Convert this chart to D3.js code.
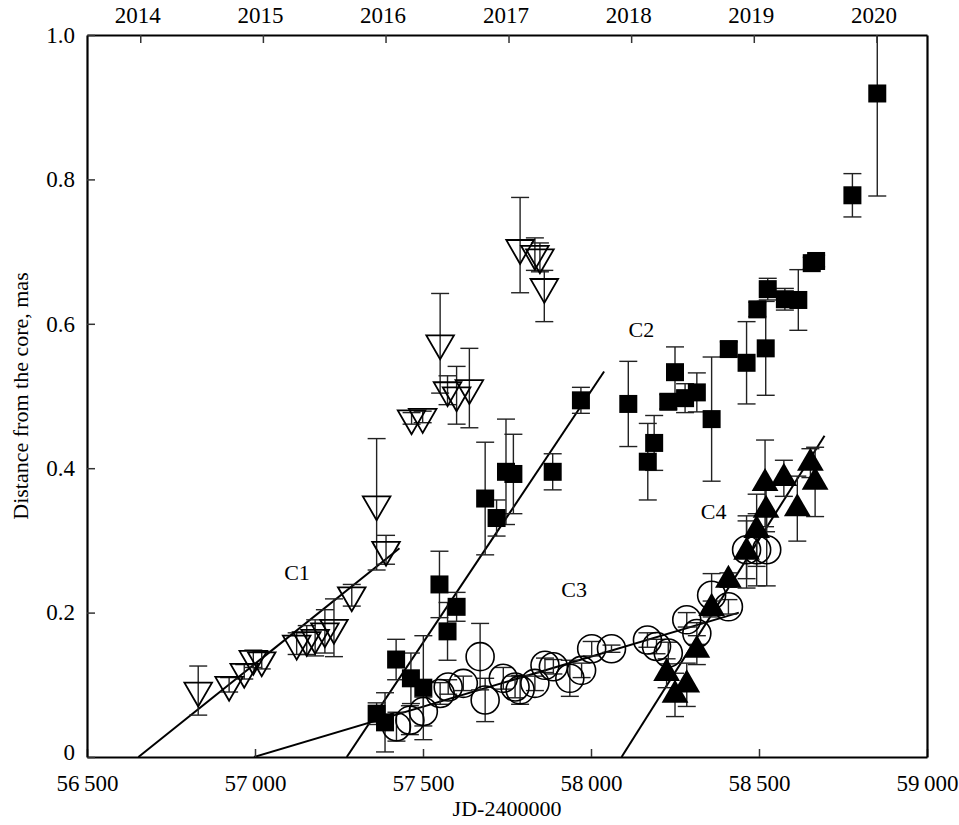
<!DOCTYPE html>
<html>
<head>
<meta charset="utf-8">
<script src="https://cdn.jsdelivr.net/npm/d3@7"></script>
<style>
  body { margin: 0; background: #fff; }
  svg { display: block; font-family: "Liberation Serif", "DejaVu Serif", serif; }
</style>
</head>
<body>
<div id="chart"></div>
<script>
'use strict';

// C1 - open down triangles
const c1Jd   = [56831, 56923, 56968, 56995, 57020, 57124, 57154, 57179, 57208, 57235, 57288, 57362, 57390, 57466, 57499, 57551, 57573, 57600, 57638, 57789, 57833, 57848, 57861];
const c1Dist = [0.092, 0.100, 0.118, 0.136, 0.134, 0.157, 0.162, 0.165, 0.174, 0.179, 0.224, 0.350, 0.287, 0.469, 0.471, 0.573, 0.508, 0.501, 0.511, 0.705, 0.697, 0.692, 0.651];
const c1ErrLo = [0.034, 0.010, 0.010, 0.012, 0.012, 0.015, 0.020, 0.025, 0.030, 0.040, 0.015, 0.091, 0.020, 0.008, 0.008, 0.069, 0.020, 0.040, 0.055, 0.062, 0.023, 0.020, 0.048];
const c1ErrHi = [0.034, 0.010, 0.010, 0.012, 0.012, 0.015, 0.020, 0.025, 0.030, 0.040, 0.015, 0.091, 0.020, 0.008, 0.008, 0.069, 0.020, 0.040, 0.055, 0.070, 0.022, 0.020, 0.023];

// C2 - filled squares
const c2Jd   = [57362, 57387, 57420, 57464, 57501, 57549, 57573, 57600, 57685, 57719, 57747, 57769, 57886, 57970, 58111, 58169, 58188, 58230, 58250, 58280, 58315, 58359, 58410, 58463, 58495, 58520, 58526, 58577, 58617, 58657, 58670, 58778, 58852];
const c2Dist = [0.060, 0.048, 0.135, 0.109, 0.096, 0.239, 0.174, 0.208, 0.358, 0.331, 0.395, 0.392, 0.395, 0.494, 0.489, 0.409, 0.435, 0.492, 0.533, 0.497, 0.505, 0.468, 0.565, 0.546, 0.620, 0.566, 0.648, 0.634, 0.633, 0.684, 0.687, 0.778, 0.919];
const c2Err  = [0.015, 0.041, 0.028, 0.035, 0.072, 0.046, 0.040, 0.020, 0.078, 0.025, 0.073, 0.055, 0.025, 0.018, 0.059, 0.053, 0.038, 0.010, 0.035, 0.020, 0.027, 0.086, 0.010, 0.057, 0.010, 0.065, 0.015, 0.015, 0.042, 0.008, 0.008, 0.030, 0.142];

// C3 - open circles
const c3Jd   = [57421, 57461, 57501, 57551, 57575, 57620, 57670, 57685, 57739, 57774, 57789, 57833, 57863, 57888, 57937, 57972, 58002, 58061, 58168, 58195, 58230, 58285, 58315, 58359, 58409, 58463, 58493, 58523];
const c3Dist = [0.042, 0.051, 0.063, 0.088, 0.097, 0.102, 0.139, 0.079, 0.109, 0.097, 0.093, 0.102, 0.127, 0.125, 0.109, 0.120, 0.150, 0.150, 0.162, 0.153, 0.144, 0.190, 0.171, 0.224, 0.208, 0.287, 0.287, 0.287];
const c3Err  = [0.020, 0.020, 0.020, 0.015, 0.010, 0.010, 0.046, 0.030, 0.015, 0.015, 0.020, 0.010, 0.010, 0.010, 0.025, 0.010, 0.010, 0.005, 0.010, 0.010, 0.015, 0.010, 0.015, 0.030, 0.010, 0.040, 0.050, 0.050];

// C4 - filled up triangles
const c4Jd   = [58225, 58250, 58285, 58315, 58359, 58409, 58463, 58493, 58521, 58518, 58574, 58614, 58653, 58667];
const c4Dist = [0.116, 0.086, 0.100, 0.148, 0.206, 0.245, 0.284, 0.314, 0.342, 0.379, 0.386, 0.344, 0.407, 0.381];
const c4Err  = [0.020, 0.030, 0.030, 0.020, 0.010, 0.010, 0.050, 0.050, 0.030, 0.060, 0.025, 0.045, 0.020, 0.048];

// linear fits: [start, end] points
const fitNames = ["C1", "C2", "C3", "C4"];
const fitJd   = [[56653, 57430], [57273, 58039], [56997, 58440], [58091, 58695]];
const fitDist = [[0, 0.289], [0, 0.534], [0, 0.200], [0, 0.445]];

// component labels
const labelJd   = [57125, 58150, 57950, 58365];
const labelDist = [0.245, 0.582, 0.222, 0.330];

// axes
const xTicks = [56500, 57000, 57500, 58000, 58500, 59000];
const yTicks = [0, 0.2, 0.4, 0.6, 0.8, 1.0];
const yearLabels = ["2014", "2015", "2016", "2017", "2018", "2019", "2020"];
const yearJd = [56658.5, 57023.5, 57388.5, 57754.5, 58119.5, 58484.5, 58849.5];

const width = 959;
const height = 825;
const margin = {top: 35, right: 32, bottom: 68, left: 87};

const svg = d3.select("#chart").append("svg")
    .attr("width", width)
    .attr("height", height);

const x = d3.scaleLinear().domain([56500, 59000]).range([margin.left, width - margin.right]);
const y = d3.scaleLinear().domain([0, 1]).range([height - margin.bottom, margin.top]);

const locale = d3.formatLocale({decimal: ".", thousands: "\u2009", grouping: [3], currency: ["", ""]});
const fmtJd = locale.format(",");

svg.append("defs").append("clipPath").attr("id", "plot")
  .append("rect")
    .attr("x", margin.left).attr("y", margin.top)
    .attr("width", width - margin.left - margin.right)
    .attr("height", height - margin.top - margin.bottom);

const plot = svg.append("g").attr("clip-path", "url(#plot)");

// fit lines
fitNames.forEach((n, i) => {
  plot.append("line")
      .attr("x1", x(fitJd[i][0])).attr("y1", y(fitDist[i][0]))
      .attr("x2", x(fitJd[i][1])).attr("y2", y(fitDist[i][1]))
      .attr("stroke", "#000")
      .attr("stroke-width", 2);
});

// error bars
function errorBars(jd, dist, lo, hi) {
  const cap = 9;
  const g = plot.append("g").attr("stroke", "#222").attr("stroke-width", 1.4);
  jd.forEach((d, i) => {
    const cx = x(d);
    const y0 = y(dist[i] - lo[i]);
    const y1 = y(dist[i] + hi[i]);
    g.append("line").attr("x1", cx).attr("x2", cx).attr("y1", y0).attr("y2", y1);
    g.append("line").attr("x1", cx - cap).attr("x2", cx + cap).attr("y1", y0).attr("y2", y0);
    g.append("line").attr("x1", cx - cap).attr("x2", cx + cap).attr("y1", y1).attr("y2", y1);
  });
}

errorBars(c1Jd, c1Dist, c1ErrLo, c1ErrHi);
errorBars(c2Jd, c2Dist, c2Err, c2Err);
errorBars(c3Jd, c3Dist, c3Err, c3Err);
errorBars(c4Jd, c4Dist, c4Err, c4Err);

// markers
const tri = d3.symbol().type(d3.symbolTriangle);

plot.append("g").selectAll("circle")
  .data(d3.zip(c3Jd, c3Dist))
  .join("circle")
    .attr("cx", d => x(d[0]))
    .attr("cy", d => y(d[1]))
    .attr("r", 14)
    .attr("fill", "none")
    .attr("stroke", "#000")
    .attr("stroke-width", 1.6);

plot.append("g").selectAll("path")
  .data(d3.zip(c1Jd, c1Dist))
  .join("path")
    .attr("d", tri.size(330)())
    .attr("transform", d => `translate(${x(d[0])},${y(d[1])}) rotate(180)`)
    .attr("fill", "none")
    .attr("stroke", "#000")
    .attr("stroke-width", 1.8);

plot.append("g").selectAll("rect")
  .data(d3.zip(c2Jd, c2Dist))
  .join("rect")
    .attr("x", d => x(d[0]) - 9)
    .attr("y", d => y(d[1]) - 9)
    .attr("width", 18)
    .attr("height", 18)
    .attr("fill", "#000");

plot.append("g").selectAll("path")
  .data(d3.zip(c4Jd, c4Dist))
  .join("path")
    .attr("d", tri.size(310)())
    .attr("transform", d => `translate(${x(d[0])},${y(d[1])})`)
    .attr("fill", "#000");

// component labels
svg.append("g").selectAll("text")
  .data(fitNames)
  .join("text")
    .attr("x", (d, i) => x(labelJd[i]))
    .attr("y", (d, i) => y(labelDist[i]))
    .attr("text-anchor", "middle")
    .attr("font-size", 22)
    .text(d => d);

// axes
const axes = svg.append("g");

const xAxis = axes.append("g")
    .attr("transform", `translate(0,${height - margin.bottom})`)
    .call(d3.axisBottom(x).tickValues(xTicks).tickFormat(fmtJd).tickSizeInner(-8).tickSizeOuter(0).tickPadding(18));

const xTop = axes.append("g")
    .attr("transform", `translate(0,${margin.top})`)
    .call(d3.axisTop(x).tickValues(yearJd).tickFormat((d, i) => yearLabels[i]).tickSizeInner(-8).tickSizeOuter(0).tickPadding(12));

const yAxis = axes.append("g")
    .attr("transform", `translate(${margin.left},0)`)
    .call(d3.axisLeft(y).tickValues(yTicks).tickFormat(d => d === 0 ? "0" : d3.format(".1f")(d)).tickSizeInner(-8).tickSizeOuter(0).tickPadding(12));

const yRight = axes.append("g")
    .attr("transform", `translate(${width - margin.right},0)`)
    .call(d3.axisRight(y).tickValues([]).tickSizeOuter(0));

axes.selectAll(":scope > g")
    .attr("font-size", 23)
    .attr("font-family", "Liberation Serif, serif");
axes.selectAll(".domain").attr("stroke", "#000").attr("stroke-width", 2.2);
axes.selectAll(".tick line").attr("stroke", "#333").attr("stroke-width", 1.5);
axes.selectAll("text").attr("fill", "#000");
xTop.selectAll(".tick text").attr("dx", "-3");
yAxis.selectAll(".tick text").filter(d => d === 0).attr("dy", "0.1em");

// axis titles
svg.append("text")
    .attr("x", (margin.left + width - margin.right) / 2)
    .attr("y", 816)
    .attr("text-anchor", "middle")
    .attr("font-size", 22)
    .text("JD-2400000");

svg.append("text")
    .attr("transform", `translate(28,${(margin.top + height - margin.bottom) / 2}) rotate(-90)`)
    .attr("text-anchor", "middle")
    .attr("font-size", 22)
    .text("Distance from the core, mas");
</script>
</body>
</html>
